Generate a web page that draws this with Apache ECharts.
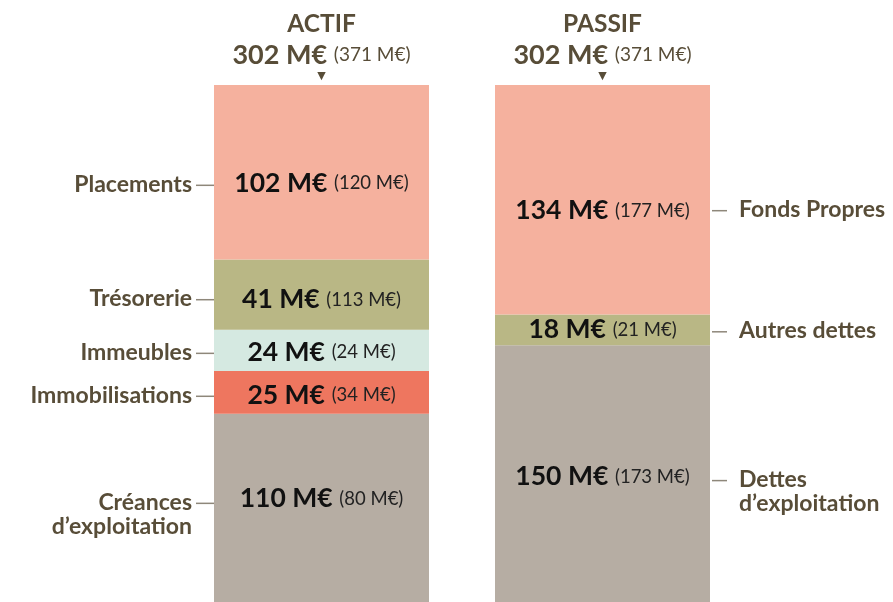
<!DOCTYPE html>
<html>
<head>
<meta charset="utf-8">
<script src="https://cdn.jsdelivr.net/npm/echarts@6/dist/echarts.min.js"></script>
<style>html,body{margin:0;padding:0;background:#fff}#c{width:893px;height:602px}</style>
</head>
<body>
<div id="c"></div>
<script>
// ---- data ----
var categories = ['ACTIF', 'PASSIF'];
// listed top to bottom
var actifNames = ['Placements', 'Trésorerie', 'Immeubles', 'Immobilisations', 'Créances\nd’exploitation'];
var actifValues = [102, 41, 24, 25, 110];
var actifPrev = [120, 113, 24, 34, 80];
var passifNames = ['Fonds Propres', 'Autres dettes', 'Dettes\nd’exploitation'];
var passifValues = [134, 18, 150];
var passifPrev = [177, 21, 173];

// ---- styles ----
var actifColors = ['#F5B19E', '#B9B785', '#D5E9E1', '#EE765F', '#B6ADA3'];
var passifColors = ['#F5B19E', '#B9B785', '#B6ADA3'];
var actifValueShift = [11, 5, 2, 3, -9];
var passifValueShift = [11, 0, 3];
var actifSideShift = [13, 5, 3, 4, -4.5];
var passifSideShift = [11, 2, 7];
var BAR_W = 215;
var TXT = '#584D38';
var FONT = 'Lato, "Open Sans", sans-serif';

function sum(a){return a.reduce(function(s,v){return s+v;},0);}
var totals = [sum(actifValues), sum(passifValues)];
var prevTotals = [sum(actifPrev), sum(passifPrev)];

var series = [];
var sideData = [];
function addGroup(catIdx, names, values, prev, colors, vShift, sShift, side) {
  var n = names.length;
  var base = 0;
  for (var i = n - 1; i >= 0; i--) {
    var d = catIdx === 0 ? [values[i], '-'] : ['-', values[i]];
    (function(i){
      series.push({
        type: 'bar', stack: 'total', barWidth: BAR_W, name: names[i],
        itemStyle: {color: colors[i]},
        silent: true,
        label: {
          show: true, position: 'inside', offset: [0, vShift[i]],
          formatter: function(){ return '{b|' + values[i] + ' M€}  {p|(' + prev[i] + ' M€)}'; },
          rich: {
            b: {fontFamily: FONT, fontWeight: 700, fontSize: 26.5, color: '#111'},
            p: {fontFamily: FONT, fontWeight: 400, fontSize: 18.5, color: '#222'}
          }
        },
        data: d
      });
    })(i);
    sideData.push([catIdx, base, base + values[i], names[i], side, sShift[i]]);
    base += values[i];
  }
}
addGroup(0, actifNames, actifValues, actifPrev, actifColors, actifValueShift, actifSideShift, 'left');
addGroup(1, passifNames, passifValues, passifPrev, passifColors, passifValueShift, passifSideShift, 'right');

series.push({
  type: 'custom', silent: true, z: 10,
  data: sideData,
  renderItem: function(params, api) {
    var item = sideData[params.dataIndex];
    var cat = item[0];
    var cx = api.coord([cat, 0])[0];
    var y0 = api.coord([cat, item[1]])[1];
    var y1 = api.coord([cat, item[2]])[1];
    var y = (y0 + y1) / 2 + item[5];
    var half = BAR_W / 2;
    var left = item[4] === 'left';
    var lx1 = left ? cx - half - 18 : cx + half + 2;
    var lx2 = left ? cx - half : cx + half + 17;
    var tx = left ? cx - half - 22 : cx + half + 29;
    return {
      type: 'group',
      children: [
        {type: 'line', shape: {x1: lx1, y1: y, x2: lx2, y2: y}, style: {stroke: '#8E877A', lineWidth: 1.5}},
        {type: 'text', x: tx, y: y - 13, style: {
          text: item[3], fill: TXT, font: '700 23px ' + FONT, lineHeight: 24,
          align: left ? 'right' : 'left', verticalAlign: 'top'
        }}
      ]
    };
  }
});

var chart = echarts.init(document.getElementById('c'), null, {renderer: 'canvas'});
chart.setOption({
  animation: false,
  grid: {left: 181, right: 150, top: 85, bottom: 0},
  xAxis: {
    type: 'category', data: categories, position: 'top',
    axisLine: {show: false}, axisTick: {show: false},
    axisLabel: {
      margin: 4, interval: 0,
      formatter: function(v, idx) {
        return '{t|' + v + '}\n{v|' + totals[idx] + ' M€}  {p|(' + prevTotals[idx] + ' M€)}\n{tri|▼}';
      },
      rich: {
        t: {fontFamily: FONT, fontWeight: 700, fontSize: 24.5, color: TXT, lineHeight: 30},
        v: {fontFamily: FONT, fontWeight: 700, fontSize: 27, color: TXT, lineHeight: 32},
        p: {fontFamily: FONT, fontWeight: 400, fontSize: 19, color: TXT, lineHeight: 32},
        tri: {fontFamily: 'DejaVu Sans', fontSize: 11, color: TXT, lineHeight: 10}
      }
    }
  },
  yAxis: {type: 'value', min: 0, max: 302, show: false, splitLine: {show: false}},
  series: series
});
</script>
</body>
</html>
